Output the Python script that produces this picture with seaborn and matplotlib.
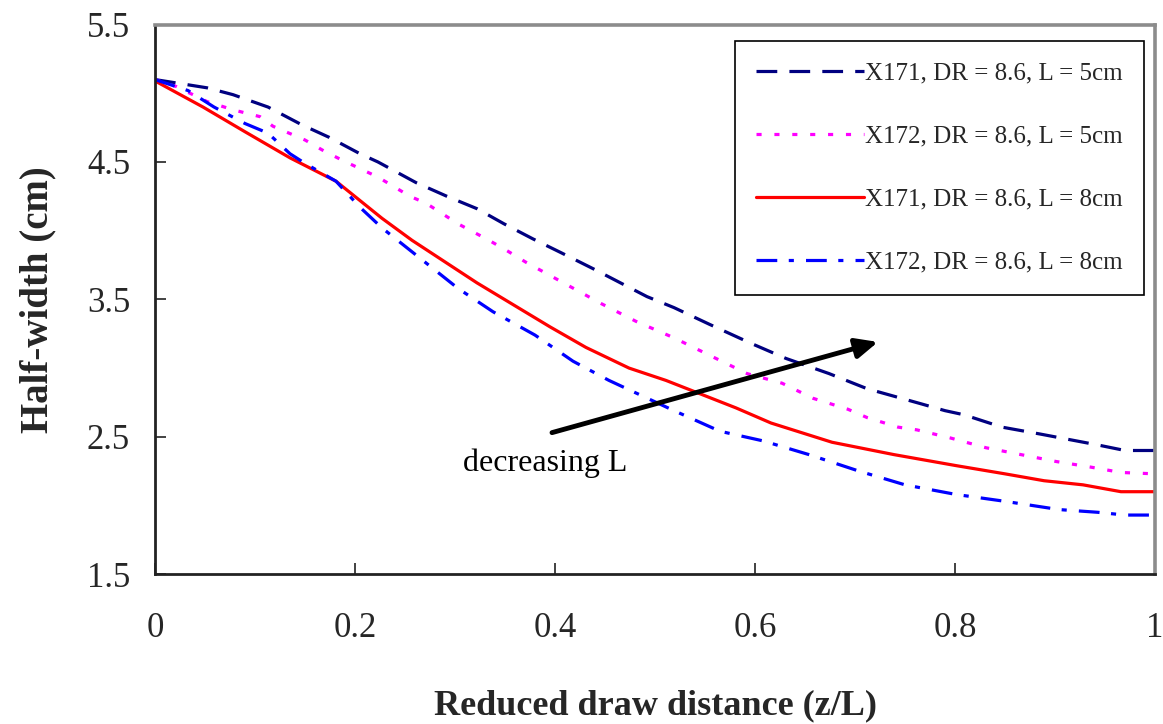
import numpy as np
import pandas as pd
import seaborn as sns
import matplotlib
matplotlib.use("Agg")
import matplotlib.pyplot as plt

# Half-width profiles along the reduced draw distance
x_171_5 = [0.0, 0.052, 0.078, 0.113, 0.147, 0.174, 0.205, 0.223, 0.261, 0.292, 0.322, 0.349,
           0.378, 0.406, 0.439, 0.492, 0.519, 0.554, 0.596, 0.631, 0.674, 0.712, 0.766, 0.79,
           0.809, 0.847, 0.885, 0.943, 0.97, 1.0]
y_171_5 = [5.10, 5.04, 4.99, 4.90, 4.77, 4.68, 4.56, 4.50, 4.35, 4.25, 4.16, 4.05,
           3.94, 3.84, 3.72, 3.52, 3.44, 3.32, 3.18, 3.07, 2.96, 2.85, 2.74, 2.69,
           2.66, 2.57, 2.52, 2.44, 2.40, 2.40]

x_172_5 = [0.0, 0.021, 0.052, 0.078, 0.105, 0.118, 0.15, 0.169, 0.188, 0.223, 0.255, 0.271,
           0.303, 0.334, 0.353, 0.371, 0.406, 0.446, 0.481, 0.519, 0.561, 0.592, 0.627,
           0.658, 0.693, 0.712, 0.743, 0.762, 0.796, 0.831, 0.866, 0.901, 0.935, 0.966, 1.0]
y_172_5 = [5.10, 5.05, 4.94, 4.88, 4.83, 4.76, 4.66, 4.58, 4.51, 4.39, 4.25, 4.20,
           4.05, 3.93, 3.85, 3.77, 3.63, 3.47, 3.34, 3.22, 3.07, 2.96, 2.89,
           2.78, 2.70, 2.64, 2.57, 2.55, 2.49, 2.42, 2.37, 2.32, 2.28, 2.24, 2.23]

x_171_8 = [0.0, 0.048, 0.09, 0.135, 0.181, 0.227, 0.257, 0.322, 0.395, 0.431, 0.474, 0.511,
           0.546, 0.581, 0.616, 0.677, 0.739, 0.801, 0.85, 0.889, 0.928, 0.966, 1.0]
y_171_8 = [5.09, 4.90, 4.72, 4.53, 4.36, 4.09, 3.93, 3.62, 3.30, 3.15, 3.00, 2.91,
           2.81, 2.71, 2.60, 2.46, 2.37, 2.29, 2.23, 2.18, 2.15, 2.10, 2.10]

x_172_8 = [0.0, 0.033, 0.059, 0.09, 0.113, 0.135, 0.15, 0.181, 0.205, 0.227, 0.265, 0.303,
           0.338, 0.38, 0.418, 0.454, 0.519, 0.565, 0.608, 0.654, 0.704, 0.75, 0.801,
           0.85, 0.904, 0.943, 0.97, 1.0]
y_172_8 = [5.10, 5.02, 4.90, 4.78, 4.71, 4.56, 4.49, 4.36, 4.17, 4.02, 3.80, 3.58,
           3.41, 3.24, 3.05, 2.91, 2.69, 2.54, 2.47, 2.37, 2.25, 2.15, 2.08,
           2.03, 1.97, 1.95, 1.93, 1.93]

labels = ["X171, DR = 8.6, L = 5cm", "X172, DR = 8.6, L = 5cm",
          "X171, DR = 8.6, L = 8cm", "X172, DR = 8.6, L = 8cm"]
colors = ["#000080", "#FF00FF", "#FF0000", "#0000FF"]
styles = [(0, (6.5, 3.8)), (0, (1.6, 4.0)), "-", (0, (6.5, 3.6, 1.6, 3.8))]

x_ticks = [0, 0.2, 0.4, 0.6, 0.8, 1.0]
x_tick_labels = ["0", "0.2", "0.4", "0.6", "0.8", "1"]
y_ticks = [1.5, 2.5, 3.5, 4.5, 5.5]

sns.set_theme(style="white")
plt.rcParams["font.family"] = ["Liberation Serif", "DejaVu Serif"]

fig = plt.figure(figsize=(11.63, 7.24), dpi=100)
ax = fig.add_axes([0.1333, 0.207, 0.8598, 0.759])

series = [(x_171_5, y_171_5), (x_172_5, y_172_5), (x_171_8, y_171_8), (x_172_8, y_172_8)]
for (xs, ys), lab, col, ls in zip(series, labels, colors, styles):
    df = pd.DataFrame({"z": xs, "w": ys})
    sns.lineplot(data=df, x="z", y="w", ax=ax, color=col, linestyle=ls,
                 linewidth=2.3, label=lab, sort=False)

ax.set_xlim(0, 1)
ax.set_ylim(1.5, 5.5)
ax.set_xticks(x_ticks)
ax.set_xticklabels(x_tick_labels)
ax.set_yticks(y_ticks)
ax.tick_params(axis="x", direction="in", length=8, width=1.2, pad=27,
               labelsize=25, color="#222222", bottom=True)
ax.tick_params(axis="y", direction="in", length=8, width=1.2, pad=18,
               labelsize=25, color="#222222", left=True)

for side in ["left", "bottom"]:
    ax.spines[side].set_color("#222222")
    ax.spines[side].set_linewidth(2.0)
for side in ["top", "right"]:
    ax.spines[side].set_color("#8c8c8c")
    ax.spines[side].set_linewidth(2.6)

ax.set_xlabel("Reduced draw distance (z/L)", fontsize=26, fontweight="bold", labelpad=32)
ax.set_ylabel("Half-width (cm)", fontsize=28, fontweight="bold", labelpad=22)

# Trend arrow
ax.annotate("", xy=(0.723, 3.19), xytext=(0.397, 2.53),
            arrowprops=dict(arrowstyle="-|>,head_length=1.1,head_width=0.5",
                            color="black", lw=3.5, shrinkA=0, shrinkB=0))
ax.text(0.39, 2.31, "decreasing L", fontsize=23, ha="center", va="center", color="black")

leg = ax.legend(loc="upper right", bbox_to_anchor=(0.989, 0.970), fontsize=18,
                frameon=True, fancybox=False, edgecolor="black", framealpha=1,
                handlelength=4.3, handletextpad=0.05, labelspacing=1.62,
                borderpad=0.85, borderaxespad=0)
leg.get_frame().set_linewidth(1.2)

fig.savefig("out.png", dpi=100)
